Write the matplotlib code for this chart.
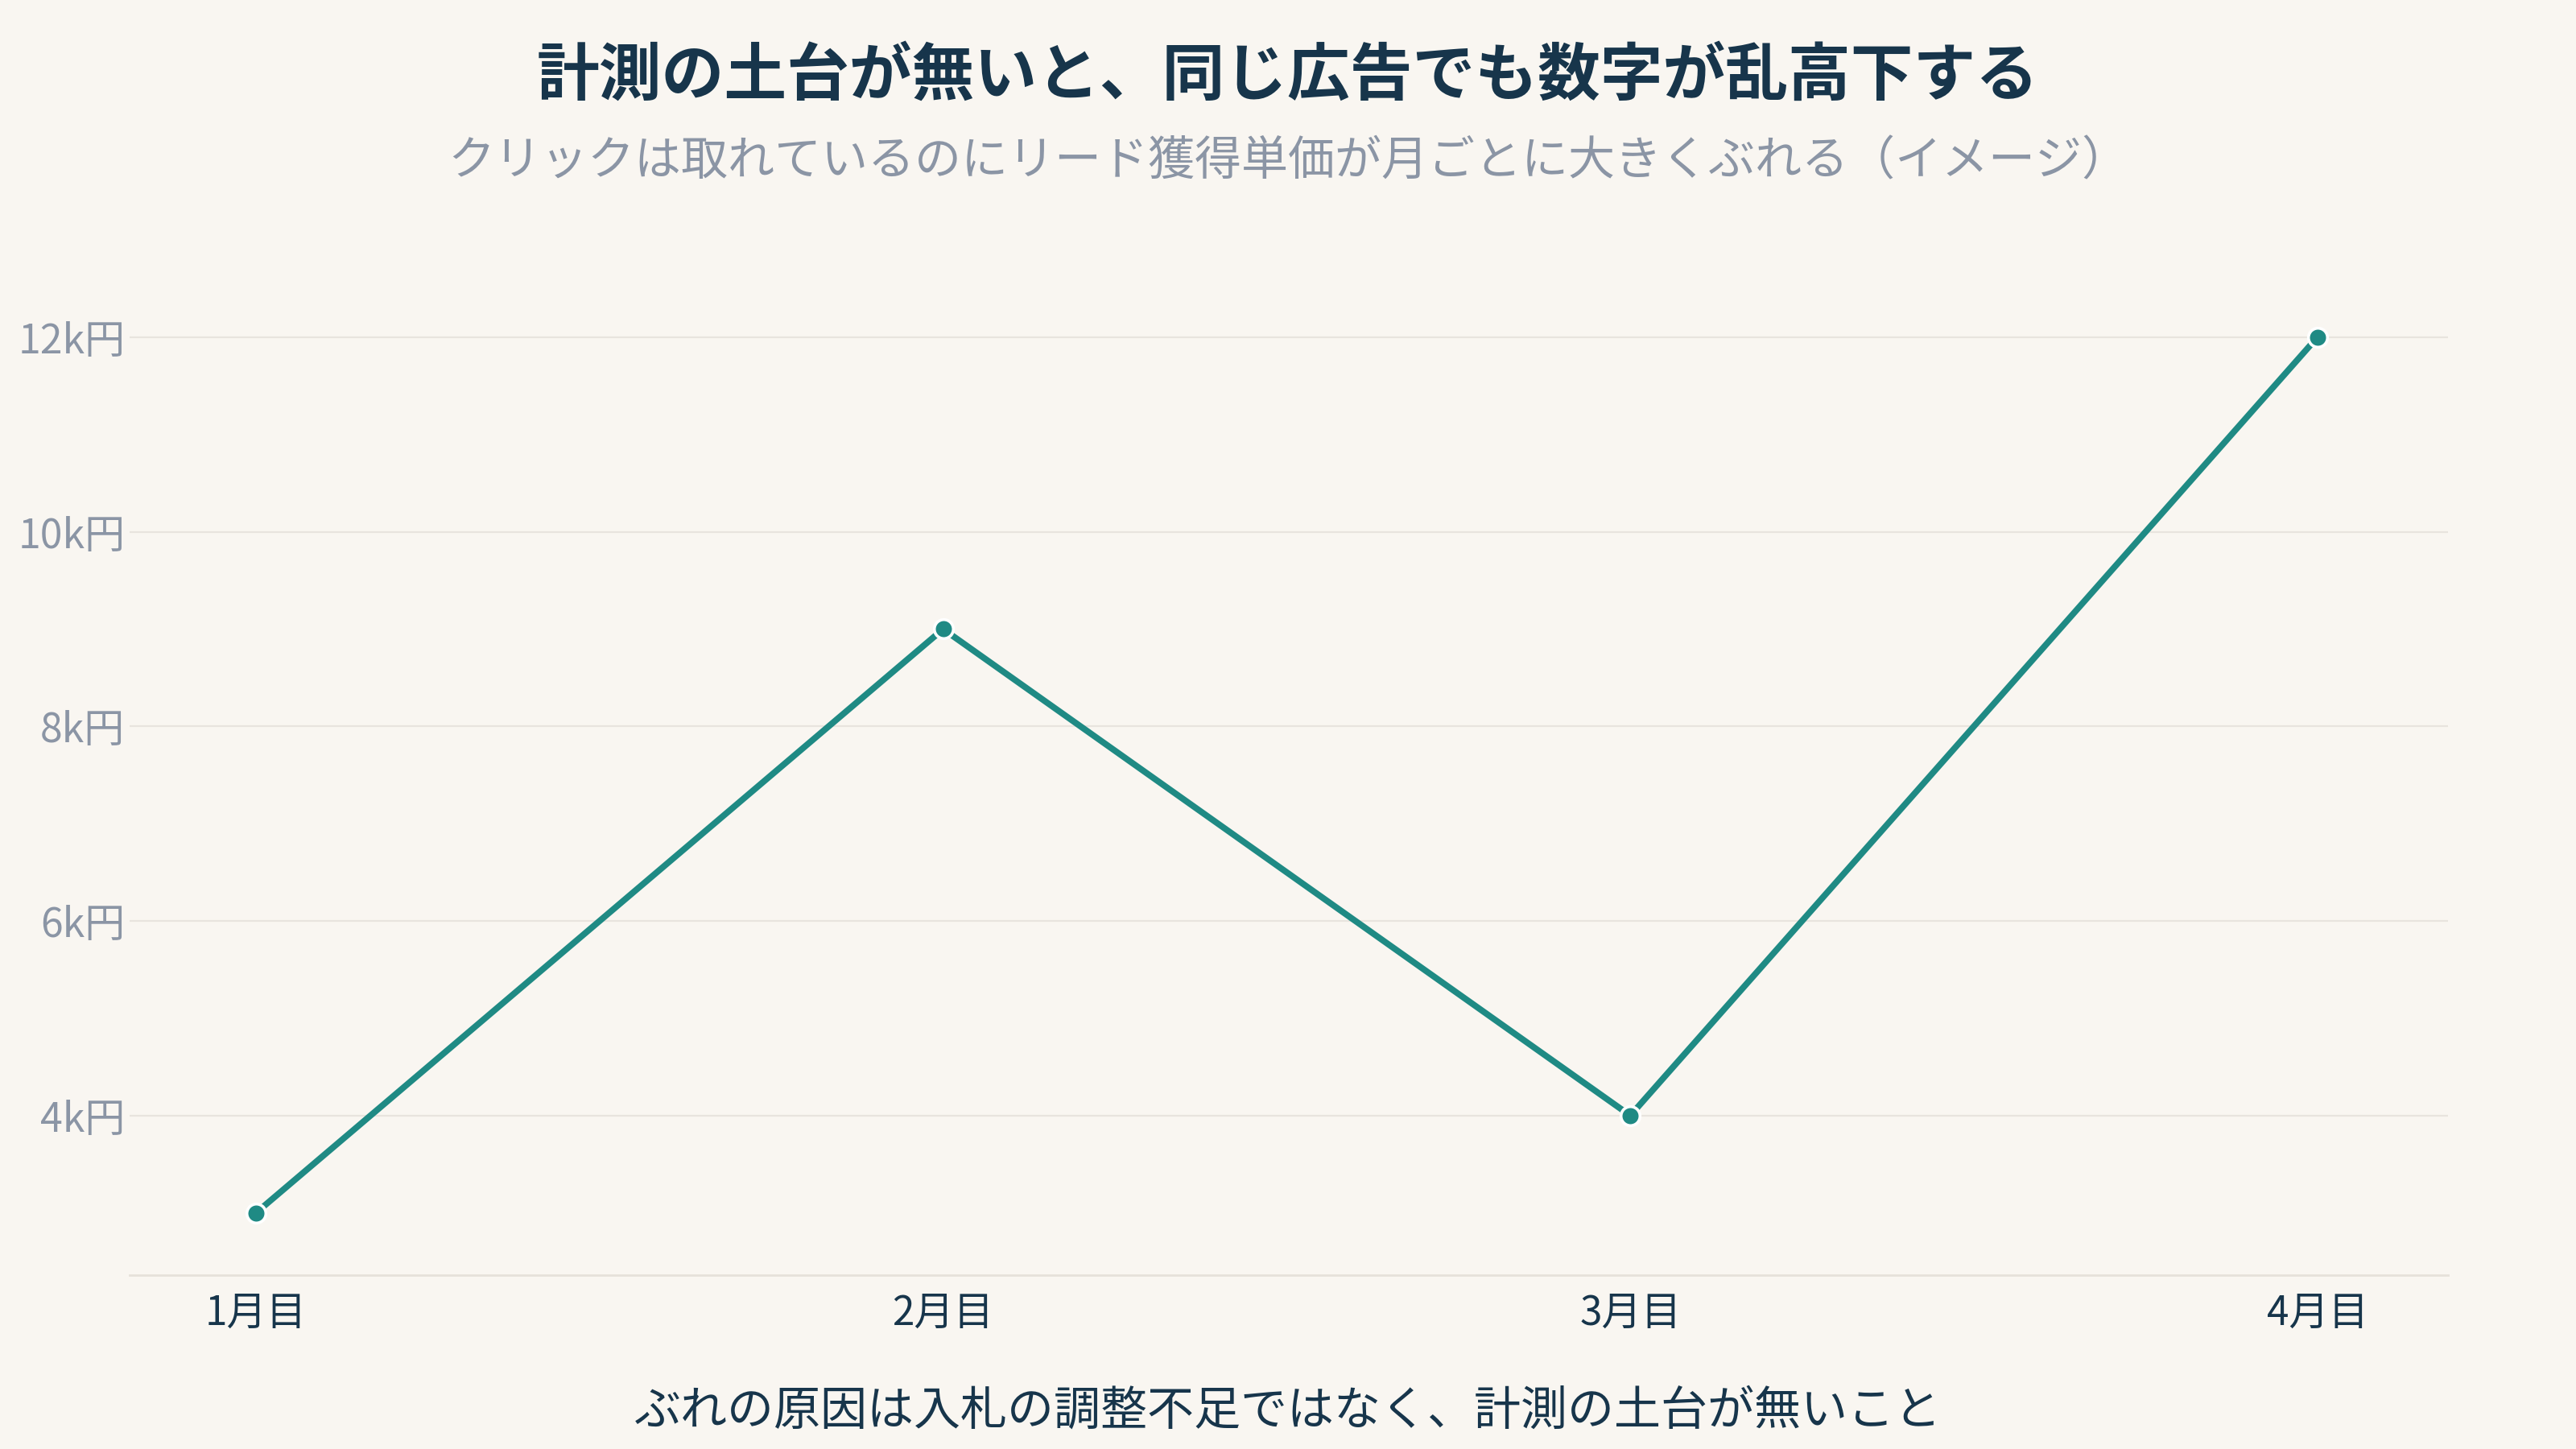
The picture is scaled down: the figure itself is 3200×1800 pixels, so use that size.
import matplotlib
matplotlib.use("Agg")
import matplotlib.pyplot as plt

plt.rcParams['font.family'] = ['Noto Sans CJK JP', 'DejaVu Sans']

# data (k円)
months = ['1月目', '2月目', '3月目', '4月目']
cpl = [3, 9, 4, 12]
yticks = [4, 6, 8, 10, 12]
ytick_labels = ['4k円', '6k円', '8k円', '10k円', '12k円']

title = '計測の土台が無いと、同じ広告でも数字が乱高下する'
subtitle = 'クリックは取れているのにリード獲得単価が月ごとに大きくぶれる（イメージ）'
caption = 'ぶれの原因は入札の調整不足ではなく、計測の土台が無いこと'

bg = '#f9f6f1'
navy = '#17354b'
grey = '#8b95a5'
teal = '#1f8a84'
gridc = '#e8e4de'

fig = plt.figure(figsize=(16, 9), dpi=200, facecolor=bg)
ax = fig.add_axes([0.0503, 0.12, 0.90, 0.701])
ax.set_facecolor(bg)

x = list(range(len(months)))
ax.plot(x, cpl, color=teal, lw=2.8, marker='o', ms=8.5,
        markerfacecolor=teal, markeredgecolor='white', markeredgewidth=1.3,
        zorder=3, solid_capstyle='round')

ax.set_xlim(-0.184, 3.19)
ax.set_ylim(2.36, 12.8)
ax.set_xticks(x)
ax.set_xticklabels(months, fontsize=17.8, color=navy)
ax.set_yticks(yticks)
ax.set_yticklabels(ytick_labels, fontsize=18, color=grey)
ax.tick_params(axis='both', length=0)
ax.tick_params(axis='x', pad=8)
ax.tick_params(axis='y', pad=2)

ax.grid(axis='y', color=gridc, lw=0.8)
ax.set_axisbelow(True)
for s in ['top', 'right', 'left']:
    ax.spines[s].set_visible(False)
ax.spines['bottom'].set_color('#e6e1da')
ax.spines['bottom'].set_linewidth(1.0)

fig.text(0.5, 0.947, title, ha='center', va='center', fontsize=28,
         fontweight='bold', color=navy)
fig.text(0.5, 0.888, subtitle, ha='center', va='center', fontsize=20.9,
         color=grey)
fig.text(0.5, 0.026, caption, ha='center', va='center', fontsize=20.9,
         color=navy)

fig.savefig('out.png', dpi=200, facecolor=bg)
